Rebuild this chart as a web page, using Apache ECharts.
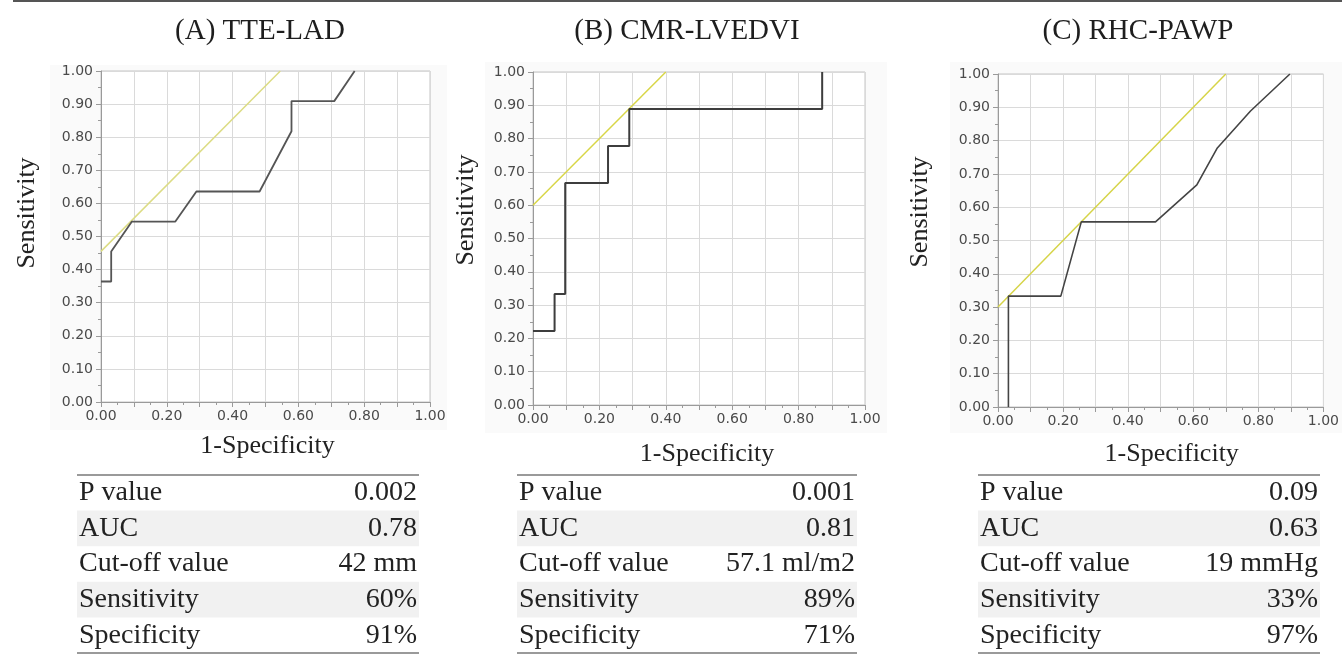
<!DOCTYPE html>
<html><head><meta charset="utf-8">
<script src="https://cdn.jsdelivr.net/npm/echarts@6/dist/echarts.min.js"></script>
<style>html,body{margin:0;padding:0;background:#fff}#c{width:1342px;height:655px}</style>
</head><body><div id="c"></div>
<script>
// ---------- data ----------
const panelTitles = ['(A) TTE-LAD', '(B) CMR-LVEDVI', '(C) RHC-PAWP'];
const xAxisName = '1-Specificity';
const yAxisName = 'Sensitivity';
const xTickLabels = ['0.00', '0.20', '0.40', '0.60', '0.80', '1.00'];
const yTickLabels = ['0.00', '0.10', '0.20', '0.30', '0.40', '0.50', '0.60', '0.70', '0.80', '0.90', '1.00'];

// ROC curves (x = 1-specificity, y = sensitivity)
const rocA_x = [0, 0.031, 0.031, 0.094, 0.226, 0.290, 0.482, 0.579, 0.579, 0.709, 0.771];
const rocA_y = [0.364, 0.364, 0.455, 0.545, 0.545, 0.636, 0.636, 0.818, 0.909, 0.909, 1.0];
const rocB_x = [0, 0.065, 0.065, 0.097, 0.097, 0.226, 0.226, 0.290, 0.290, 0.871, 0.871];
const rocB_y = [0.222, 0.222, 0.333, 0.333, 0.667, 0.667, 0.778, 0.778, 0.889, 0.889, 1.0];
const rocC_x = [0.032, 0.032, 0.193, 0.256, 0.484, 0.611, 0.674, 0.776, 0.897];
const rocC_y = [0, 0.333, 0.333, 0.556, 0.556, 0.667, 0.778, 0.889, 1.0];

// Tangent (cut-off) lines
const tanA_x = [0, 0.545];
const tanA_y = [0.455, 1.0];
const tanB_x = [0, 0.40];
const tanB_y = [0.60, 1.0];
const tanC_x = [0, 0.70];
const tanC_y = [0.30, 1.0];

// Summary tables
const tableLabels = ['P value', 'AUC', 'Cut-off value', 'Sensitivity', 'Specificity'];
const tableA = ['0.002', '0.78', '42 mm', '60%', '91%'];
const tableB = ['0.001', '0.81', '57.1 ml/m2', '89%', '71%'];
const tableC = ['0.09', '0.63', '19 mmHg', '33%', '97%'];

// ---------- layout / style ----------
const grids = [
  {left: 101, top: 71, width: 329, height: 331},
  {left: 533, top: 72, width: 332, height: 333},
  {left: 998, top: 74, width: 334, height: 333}
];
const panels = [[50, 65, 397, 365], [485, 62, 402, 371], [950, 62, 392, 371]];
const titlePos = [[260, 31], [687, 31], [1138, 31]];
const xNameGap = [31, 36, 34];
const xNameShift = [4, 16, 22];
const yNameGap = [61, 54, 65];
const yNameShift = [47, 57, 57];
const tableX = [[77, 419], [517, 857], [978, 1320]];
const tableTop = 475, rowH = 35.6;
const curveColors = ['#555', '#3d3d3d', '#444'];
const curveWidths = [1.8, 2, 1.6];
const tanColors = ['#dcdc84', '#d8d647', '#d6d448'];

const rocs = [[rocA_x, rocA_y], [rocB_x, rocB_y], [rocC_x, rocC_y]];
const tans = [[tanA_x, tanA_y], [tanB_x, tanB_y], [tanC_x, tanC_y]];
const tables = [tableA, tableB, tableC];
const zip = (xs, ys) => xs.map((x, i) => [x, ys[i]]);

const serif = 'Liberation Serif';
const labelFont = 'DejaVu Sans';
const axisColor = '#9a9a9a';

function fmt(list) {
  return v => { const s = (Math.round(v * 100) / 100).toFixed(2); return list.includes(s) ? s : ''; };
}

const xAxes = [], yAxes = [], series = [], graphics = [];
grids.forEach((g, i) => {
  xAxes.push({
    type: 'value', gridIndex: i, min: 0, max: 1, interval: 0.1,
    name: xAxisName, nameLocation: 'middle', nameGap: xNameGap[i],
    nameTextStyle: {fontFamily: serif, fontSize: 26, color: '#222', padding: [0, 0, 0, xNameShift[i]]},
    axisLine: {show: true, onZero: false, lineStyle: {color: axisColor, width: 1}},
    axisTick: {show: true, length: 5, lineStyle: {color: axisColor}},
    minorTick: {show: true, splitNumber: 2, length: 3, lineStyle: {color: axisColor}},
    splitLine: {show: true, lineStyle: {color: '#dadada', width: 1}},
    axisLabel: {formatter: fmt(xTickLabels), color: '#4a4a4a', fontFamily: labelFont, fontSize: 14, margin: 7, showMinLabel: true, showMaxLabel: true}
  });
  yAxes.push({
    type: 'value', gridIndex: i, min: 0, max: 1, interval: 0.1,
    name: yAxisName, nameLocation: 'middle', nameGap: yNameGap[i],
    nameTextStyle: {fontFamily: serif, fontSize: 26, color: '#222', padding: [0, 0, 0, yNameShift[i]]},
    axisLine: {show: true, onZero: false, lineStyle: {color: axisColor, width: 1}},
    axisTick: {show: true, length: 5, lineStyle: {color: axisColor}},
    minorTick: {show: true, splitNumber: 2, length: 3, lineStyle: {color: axisColor}},
    splitLine: {show: true, lineStyle: {color: '#dadada', width: 1}},
    axisLabel: {formatter: fmt(yTickLabels), color: '#4a4a4a', fontFamily: labelFont, fontSize: 14, margin: 8}
  });
  series.push({
    type: 'line', xAxisIndex: i, yAxisIndex: i, data: zip(tans[i][0], tans[i][1]),
    showSymbol: false, symbol: 'none', silent: true,
    lineStyle: {color: tanColors[i], width: 1.5}
  });
  series.push({
    type: 'line', xAxisIndex: i, yAxisIndex: i, data: zip(rocs[i][0], rocs[i][1]),
    showSymbol: false, symbol: 'none', silent: true,
    lineStyle: {color: curveColors[i], width: curveWidths[i]}
  });

  // panel background
  const p = panels[i];
  graphics.push({type: 'rect', z: -10, silent: true, shape: {x: p[0], y: p[1], width: p[2], height: p[3]}, style: {fill: '#fafafa'}});
  // title
  graphics.push({type: 'text', silent: true, x: titlePos[i][0], y: titlePos[i][1],
    style: {text: panelTitles[i], font: '29px "Liberation Serif"', fill: '#1e1e1e', align: 'center', verticalAlign: 'middle', textAlign: 'center', textVerticalAlign: 'middle'}});
  // table
  const [x0, x1] = tableX[i];
  tableLabels.forEach((lab, r) => {
    const y0 = tableTop + r * rowH;
    if (r % 2 === 1) {
      graphics.push({type: 'rect', silent: true, shape: {x: x0, y: y0, width: x1 - x0, height: rowH}, style: {fill: '#f1f1f1'}});
    }
    graphics.push({type: 'text', silent: true, x: x0 + 2, y: y0 + rowH / 2,
      style: {text: lab, font: '28px "Liberation Serif"', fill: '#222', align: 'left', verticalAlign: 'middle', textAlign: 'left', textVerticalAlign: 'middle'}});
    graphics.push({type: 'text', silent: true, x: x1 - 2, y: y0 + rowH / 2,
      style: {text: tables[i][r], font: '28px "Liberation Serif"', fill: '#222', align: 'right', verticalAlign: 'middle', textAlign: 'right', textVerticalAlign: 'middle'}});
  });
  graphics.push({type: 'rect', silent: true, shape: {x: x0, y: tableTop - 1, width: x1 - x0, height: 2}, style: {fill: '#9a9a9a'}});
  graphics.push({type: 'rect', silent: true, shape: {x: x0, y: tableTop + 5 * rowH - 1, width: x1 - x0, height: 2}, style: {fill: '#9a9a9a'}});
});
// top rule
graphics.push({type: 'rect', silent: true, shape: {x: 13, y: 0, width: 1329, height: 2}, style: {fill: '#555'}});

const chart = echarts.init(document.getElementById('c'), null, {renderer: 'canvas'});
chart.setOption({
  animation: false,
  backgroundColor: '#ffffff',
  grid: grids.map(g => Object.assign({show: true, backgroundColor: '#ffffff', borderColor: '#c4c4c4', borderWidth: 1, containLabel: false}, g)),
  xAxis: xAxes,
  yAxis: yAxes,
  series: series,
  graphic: {elements: graphics}
});
</script></body></html>
